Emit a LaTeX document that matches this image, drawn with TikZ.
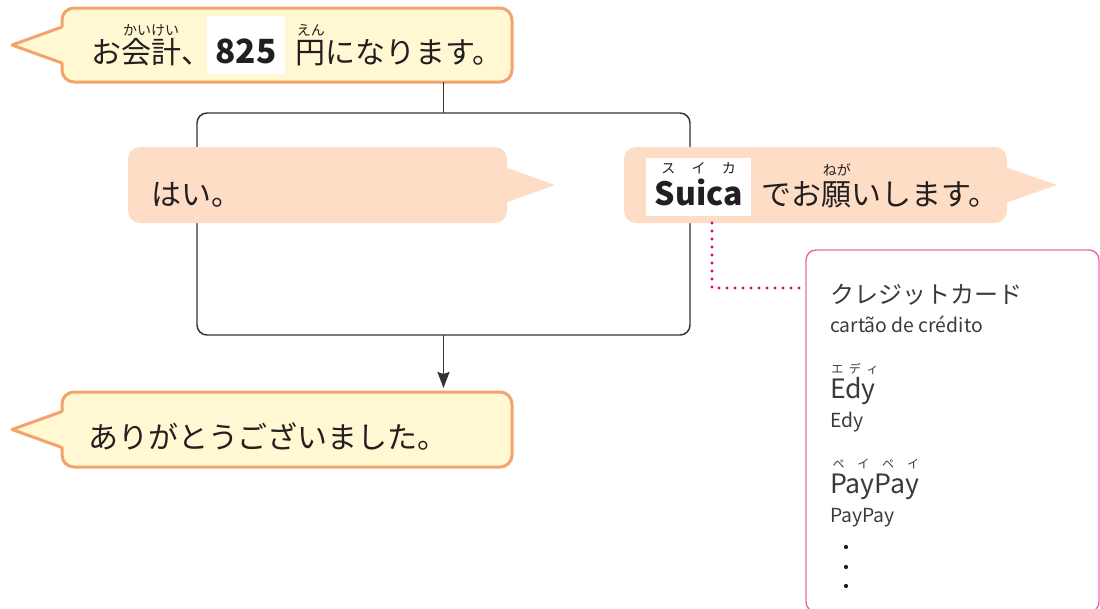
\documentclass[tikz,border=0pt]{standalone}
\usepackage{fontspec}
\setmainfont{Noto Sans CJK JP}
\usepackage{xcolor}
\usetikzlibrary{positioning, calc, arrows.meta}

\definecolor{bubbleyellow}{HTML}{FFF8D2}
\definecolor{bubbleorange}{HTML}{F3A36C}
\definecolor{bubblepeach}{HTML}{FDDDC6}
\definecolor{framegray}{HTML}{333333}
\definecolor{dotmagenta}{HTML}{E4007F}
\definecolor{boxpink}{HTML}{EC6AAE}
\definecolor{inktext}{HTML}{231F20}
\definecolor{lighttext}{HTML}{3A3A3A}

% ruby over a word: [raise]{word}{reading}
\newcommand{\furi}[3][21pt]{\leavevmode\setbox0=\hbox{#2}%
  \rlap{\raisebox{#1}{\makebox[\wd0]{\fontsize{10.5}{10.5}\selectfont #3}}}\box0}
% word on a white patch
\newcommand{\hilite}[1]{{\setlength{\fboxsep}{0pt}%
  \colorbox{white}{\rule[-8.5pt]{0pt}{44pt}\hspace{6.5pt}#1\hspace{6.5pt}}}}

\begin{document}
\begin{tikzpicture}[
  x=0.75pt, y=-0.75pt,
  >=Stealth,
  every node/.style={inner sep=0pt, outer sep=0pt},
  saytext/.style={anchor=base west, font=\fontsize{22.5}{27}\selectfont, text=inktext},
  yellowbubble/.style={draw=bubbleorange, fill=bubbleyellow, line width=2.25pt,
               rounded corners=9pt},
  yellowtail/.style={draw=bubbleorange, line width=2.25pt, line join=round},
  peachbubble/.style={fill=bubblepeach, rounded corners=9pt},
  methodbig/.style={anchor=base west, text=lighttext},
  methodsmall/.style={anchor=base west, font=\fontsize{14.5}{16}\selectfont, text=lighttext},
  dotline/.style={dotmagenta, line width=2.6pt, line cap=round,
               dash pattern=on 0pt off 6pt}
]
\useasboundingbox (0,0) rectangle (1100,608);

% ---- Frame between the two answers ----
\node[draw=framegray, line width=1.1pt, rounded corners=7.5pt,
      minimum width=369.75pt, minimum height=166.5pt] (frame) at (443.5,224) {};

% ---- Clerk: total ----
\node[yellowbubble, minimum width=337.5pt, minimum height=55.5pt] (total) at (287,45) {};
\fill[bubbleyellow] ($(total.west)+(2.5,-18)$) -- ($(total.west)+(-50,0)$)
  -- ($(total.west)+(2.5,18)$) -- cycle;
\draw[yellowtail] ($(total.west)+(0,-18)$) -- ($(total.west)+(-50,0)$)
  -- ($(total.west)+(0,18)$);
\node[saytext] (totaltext) at (91,63)
  {お\furi{会計}{かいけい}、\hspace{-3pt}\hilite{\fontsize{25}{27}\selectfont\bfseries 825}%
   \hspace{8pt}\furi{円}{えん}になります。};

% ---- Answer: yes ----
\node[peachbubble, minimum width=284.25pt, minimum height=57pt] (yes) at (317.5,185) {};
\fill[bubblepeach] ($(yes.east)+(-2,-18)$) -- ($(yes.east)+(48,0)$)
  -- ($(yes.east)+(-2,18)$) -- cycle;
\node[saytext] (yestext) at (151,205) {はい。};

% ---- Answer: Suica ----
\node[peachbubble, minimum width=287.25pt, minimum height=57pt] (suica) at (815.5,185) {};
\fill[bubblepeach] ($(suica.east)+(-2,-18)$) -- ($(suica.east)+(50,0)$)
  -- ($(suica.east)+(-2,18)$) -- cycle;
\node[saytext] (suicatext) at (646,205)
  {\hilite{\furi[24pt]{\fontsize{24}{27}\selectfont\bfseries Suica}{\hspace{5pt}ス\hfill イ\hfill カ\hspace{5pt}}}%
   \hspace{8pt}でお\furi[22pt]{願}{ねが}いします。};

% ---- Clerk: thanks ----
\node[yellowbubble, minimum width=337.5pt, minimum height=56.25pt] (thanks) at (287,429.5) {};
\fill[bubbleyellow] ($(thanks.west)+(2.5,-18)$) -- ($(thanks.west)+(-50,0)$)
  -- ($(thanks.west)+(2.5,18)$) -- cycle;
\draw[yellowtail] ($(thanks.west)+(0,-18)$) -- ($(thanks.west)+(-50,0)$)
  -- ($(thanks.west)+(0,18)$);
\node[saytext] (thankstext) at (88,448) {ありがとうございました。};

% ---- Flow ----
\draw[framegray, line width=1.3pt] (frame.north |- total.south) -- (frame.north);
\draw[->, framegray, line width=1.3pt, shorten >=3pt,
      arrows={-Stealth[length=12pt, width=9pt, inset=1.5pt]}]
  (frame.south) -- (frame.south |- thanks.north);

% ---- Other ways to pay ----
\node[draw=boxpink, line width=1.1pt, rounded corners=7.5pt,
      minimum width=219.75pt, minimum height=271.5pt] (methods) at (952.5,431) {};
\coordinate (dotbend) at (712,288);
\draw[dotline] (dotbend |- suica.south) -- (dotbend) -- (dotbend -| methods.west);

\node[methodbig, font=\fontsize{18}{20}\selectfont] (credit) at (830,303) {クレジットカード};
\node[methodsmall] (creditpt) at (830,332) {cartão de crédito};
\node[methodbig, font=\fontsize{20}{22}\selectfont] (edy) at (830,398)
  {\furi[18.5pt]{Edy}{\fontsize{9}{9}\selectfont\hspace{1pt}エ\hfill デ\hfill ィ\hspace{-2pt}}};
\node[methodsmall] (edypt) at (830,427) {Edy};
\node[methodbig, font=\fontsize{20}{22}\selectfont] (paypay) at (830,493)
  {\furi[18.5pt]{PayPay}{\fontsize{9}{9}\selectfont\hspace{2pt}ペ\hfill イ\hfill ペ\hfill イ}};
\node[methodsmall] (paypaypt) at (830,522) {PayPay};
\foreach \y in {547,567,586}
  \fill[inktext] (846,\y) circle (1.6pt);

\end{tikzpicture}
\end{document}
